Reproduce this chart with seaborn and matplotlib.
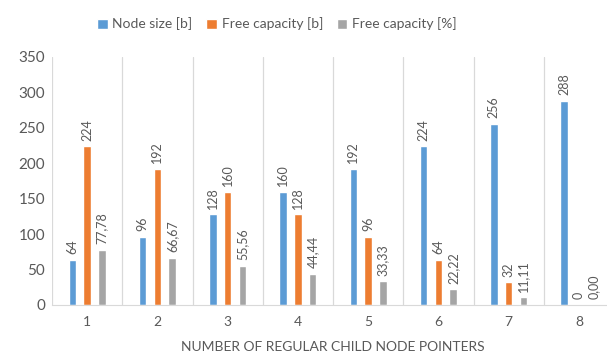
import matplotlib
matplotlib.use("Agg")
import matplotlib.pyplot as plt
import seaborn as sns
import pandas as pd
import numpy as np

# Values per number of regular child node pointers
pointers = ["1", "2", "3", "4", "5", "6", "7", "8"]
node_size_b = [64, 96, 128, 160, 192, 224, 256, 288]
free_capacity_b = [224, 192, 160, 128, 96, 64, 32, 0]
free_capacity_pct = [77.78, 66.67, 55.56, 44.44, 33.33, 22.22, 11.11, 0.00]
series_names = ["Node size [b]", "Free capacity [b]", "Free capacity [%]"]
colors = ["#5B9BD5", "#ED7D31", "#A5A5A5"]

df = pd.DataFrame({
    "pointers": pointers * 3,
    "series": [series_names[0]] * 8 + [series_names[1]] * 8 + [series_names[2]] * 8,
    "value": node_size_b + free_capacity_b + free_capacity_pct,
})

sns.set_style("white")
plt.rcParams["font.family"] = ["Lato", "DejaVu Sans"]
text_color = "#595959"
grid_color = "#D9D9D9"

fig = plt.figure(figsize=(6.07, 3.54), dpi=100)
ax = fig.add_axes([52 / 607, 49 / 354, 562 / 607, 248 / 354])

sns.barplot(data=df, x="pointers", y="value", hue="series", order=pointers,
            hue_order=series_names, palette=colors, width=0.63, gap=0.48,
            saturation=1, ax=ax, legend=True, errorbar=None)

# value labels above every bar
for container, name in zip(ax.containers, series_names):
    for bar, val in zip(container, df[df["series"] == name]["value"]):
        if name.endswith("[%]"):
            label = f"{val:.2f}".replace(".", ",")
        else:
            label = f"{int(val)}"
        ax.annotate(label, (bar.get_x() + bar.get_width() / 2, bar.get_height()),
                    xytext=(0, 4), textcoords="offset points", rotation=90,
                    ha="center", va="bottom", fontsize=9, color=text_color)

ax.set_ylim(0, 350)
ax.set_yticks(range(0, 351, 50))
ax.set_xlim(-0.5, 7.5)
ax.set_xticks(np.arange(-0.5, 8, 1), minor=True)
ax.grid(True, which="minor", axis="x", color=grid_color, linewidth=0.9)
ax.grid(False, which="major")
ax.tick_params(axis="x", which="minor", length=4, color=grid_color, direction="out")
ax.tick_params(axis="x", which="major", length=0, labelsize=10, colors=text_color, pad=8)
ax.tick_params(axis="y", length=0, labelsize=11, colors=text_color, pad=5)

for side in ["top", "right", "left"]:
    ax.spines[side].set_visible(False)
ax.spines["bottom"].set_color(grid_color)

ax.set_ylabel("")
ax.set_xlabel("NUMBER OF REGULAR CHILD NODE POINTERS", fontsize=10,
              color=text_color, labelpad=9)

handles, labels = ax.get_legend_handles_labels()
ax.legend_.remove()
fig.legend(handles, labels, loc="center", bbox_to_anchor=(277 / 607, 1 - 24 / 354),
           ncol=3, frameon=False, fontsize=10, handlelength=0.75, handleheight=0.75,
           handletextpad=0.35, columnspacing=1.0, labelcolor=text_color)

fig.savefig("out.png", dpi=100)
